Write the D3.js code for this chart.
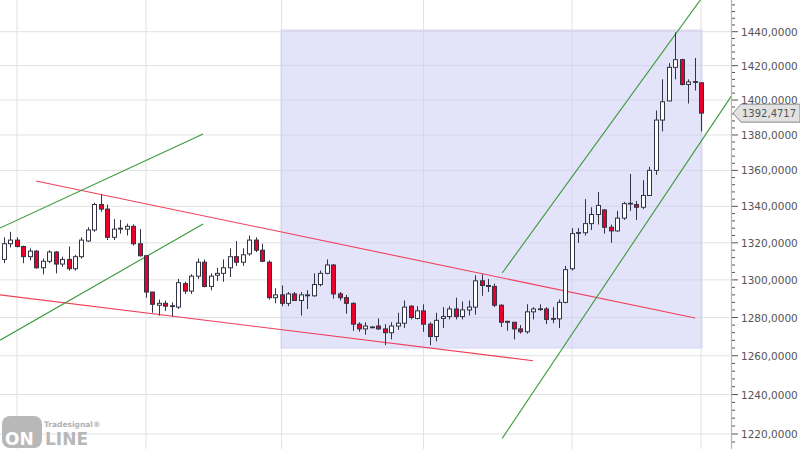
<!DOCTYPE html>
<html><head><meta charset="utf-8">
<script src="https://cdn.jsdelivr.net/npm/d3@7"></script>
<style>body{margin:0;background:#fff}svg{display:block}</style>
</head><body>
<svg id="c" width="800" height="449"></svg>
<script>
// candles: [open, high, low, close]
const candles = [
[1311,1323,1309,1319.5],[1319.5,1326,1317.5,1321.5],[1321.5,1323,1317.5,1318],[1318,1318.5,1309,1312.5],
[1312.5,1317,1310.5,1315.5],[1315.5,1316,1306,1306.5],[1306.5,1311.5,1303,1310],[1310,1316,1309,1315],
[1315,1315.5,1303.5,1308.5],[1308.5,1312.5,1307,1311],[1311,1318,1305,1306],[1306,1313.5,1305,1312.5],
[1312.5,1323,1311.5,1321.5],[1321,1328.5,1320.5,1327],[1327,1342,1326,1341],[1341,1346.5,1337,1338.5],
[1338.5,1341,1321.5,1323],[1323,1333,1321.5,1327.5],[1327.5,1332.5,1325,1328],[1327.5,1330.5,1324,1329],
[1329,1330,1318.5,1319.5],[1319.5,1327.5,1312.5,1313],[1313,1313,1290.5,1293.5],[1293.5,1293.5,1282.5,1287],
[1286.5,1289.5,1281,1287.5],[1287.5,1289,1283.5,1286],[1286.2,1288,1280.5,1286],[1285.5,1300.5,1284.5,1298.5],
[1298,1299,1292.5,1294],[1294,1303,1292.5,1302],[1302,1311.5,1300.5,1309.5],[1309.5,1311,1296,1296.5],
[1296.5,1303.5,1294.5,1302],[1302.5,1306.5,1299.5,1303.5],[1303.5,1311,1299,1306.5],[1306.5,1317,1301.5,1312.5],
[1312.5,1321,1307.5,1309.5],[1309.5,1317,1307.5,1313.5],[1314,1324,1313,1321.5],[1321.5,1323,1315,1316],
[1316,1319.5,1309.5,1310],[1309.5,1310.5,1289.5,1290.5],[1290.5,1295.5,1287.5,1292],[1292,1297,1286,1287.5],
[1287.5,1293.5,1286,1292.5],[1292.5,1293.5,1289,1289],[1289,1293.5,1281,1292],[1291.5,1294.5,1284.5,1292],
[1291.5,1303.5,1291,1297.5],[1297.5,1305,1296.5,1303.5],[1303.5,1311,1303,1308],[1308,1308.5,1290,1292.5],
[1292.5,1293.5,1289,1290.5],[1290.5,1292,1282,1287.5],[1287.5,1288,1273,1276.5],[1276.5,1277.5,1272.5,1274],
[1274,1277.5,1271,1275.5],[1275,1275.5,1274.5,1274.8],[1275.5,1279.5,1273.5,1274],[1274,1276.5,1265.5,1272],
[1272,1277.5,1268.5,1275.5],[1275.5,1282.5,1273.5,1277],[1277,1289,1274.5,1285.5],[1286,1286.5,1279,1280],
[1279.5,1286,1279,1283.5],[1283.5,1287,1272.5,1276.5],[1276.5,1277.5,1265.5,1270],[1270,1282.5,1267.5,1278.5],
[1279.5,1285.5,1274.5,1280.5],[1280.5,1286,1279,1284.5],[1284.5,1290.5,1279,1280.5],[1280.5,1288.5,1279,1284],
[1284,1289,1281,1285.5],[1285.5,1302.5,1281.5,1299.5],[1299.5,1303,1291.5,1297],[1297,1300.5,1293.5,1296.5],
[1296.5,1298,1285.5,1286.5],[1286.5,1287,1275,1277.5],[1278,1278,1273,1277.5],[1277.5,1277.5,1268.5,1274],
[1274,1276,1271.5,1272.5],[1272.5,1287,1271.5,1283],[1283,1285.5,1279,1284.5],[1284.5,1287,1283.5,1284.6],
[1284.5,1285.5,1276.5,1279],[1279.5,1285.5,1277,1279.3],[1279.3,1289.5,1274.5,1288],[1288,1307.5,1287.5,1305.5],
[1306,1328,1305,1325],[1325.4,1328,1320,1325.6],[1325.5,1344,1324,1330.5],[1330.5,1339.5,1327,1335.5],
[1335.5,1348,1330,1340.5],[1338,1338.5,1325,1328.5],[1328.5,1330,1320,1326.5],[1326.5,1337.5,1326,1333.5],
[1333.5,1342.5,1332.5,1341.5],[1341.5,1358,1337.5,1341.7],[1341,1343,1332.5,1339.5],[1339.5,1354.5,1338.5,1346],
[1346,1362,1346,1360],[1360,1394,1357.5,1388.5],[1388.5,1412,1382,1399],[1399.5,1421.5,1399.5,1419],
[1419,1439.5,1412,1423.5],[1423.5,1424,1408.5,1409],[1409,1412,1398,1410.5],[1410.7,1424.5,1405.5,1410.5],
[1410,1410.3,1382,1392.4717]
];
const yTicks = [1220,1240,1260,1280,1300,1320,1340,1360,1380,1400,1420,1440];
const xGrid = [2,22,43,65,88,108];
const lastPrice = 1392.4717;
// trend lines: [idx1, value1, idx2, value2]
const redLines = [[4.96,1354.1,107.1,1279.7],[-0.62,1292.0,82.0,1257.4]];
const greenLines = [[-0.62,1328.1,30.85,1380.5],[-0.62,1268.1,30.85,1330.3],[77.2,1303.7,107.9,1459],[77.2,1217.8,112.7,1402.3]];
const box = [43, 108, 1441, 1264];

const svg = d3.select("#c");
const x = d3.scaleLinear().domain([0,108]).range([4,701]);
const y = d3.scaleLog().domain([1220,1440]).range([434,31.7]);
const fmt = v => d3.format(".4f")(v).replace(".", ",");

svg.append("g").selectAll("line").data(yTicks).join("line")
  .attr("x1",0).attr("x2",731).attr("y1",d=>y(d)).attr("y2",d=>y(d))
  .attr("stroke","#e2e2e2");
svg.append("g").selectAll("line").data(xGrid).join("line")
  .attr("x1",d=>x(d)).attr("x2",d=>x(d)).attr("y1",0).attr("y2",449)
  .attr("stroke","#e2e2e2");

svg.append("rect").attr("x",x(box[0])-0.5).attr("width",x(box[1])-x(box[0])+1.5)
  .attr("y",y(box[2])).attr("height",y(box[3])-y(box[2]))
  .attr("fill","rgba(200,200,245,0.5)").attr("stroke","#d6d6f0");

const tl = (arr,col) => svg.append("g").selectAll("line").data(arr).join("line")
  .attr("x1",d=>x(d[0])).attr("y1",d=>y(d[1])).attr("x2",d=>x(d[2])).attr("y2",d=>y(d[3]))
  .attr("stroke",col).attr("stroke-width",1.1);
tl(redLines,"#f0405a");
tl(greenLines,"#3a9a3a");

const g = svg.append("g");
candles.forEach((c,i)=>{
  const cx = Math.round(x(i))+0.5;
  const up = c[3] >= c[0];
  g.append("line").attr("x1",cx).attr("x2",cx).attr("y1",y(c[1])).attr("y2",y(c[2]))
    .attr("stroke","#333344");
  const top = y(Math.max(c[0],c[3])), bot = y(Math.min(c[0],c[3]));
  g.append("rect").attr("x",cx-2).attr("width",4).attr("y",top).attr("height",Math.max(bot-top,0.8))
    .attr("fill",up?"#ffffff":"#e8002a").attr("stroke","#333344").attr("stroke-width",1);
});

svg.append("line").attr("x1",731.5).attr("x2",731.5).attr("y1",0).attr("y2",449).attr("stroke","#d9a8a8").attr("stroke-width",1.2);
const minor = d3.range(1216,1464,4);
svg.append("g").selectAll("line").data(minor).join("line")
  .attr("x1",732).attr("x2",d=>d%20===0?738:735).attr("y1",d=>y(d)).attr("y2",d=>y(d)).attr("stroke","#555");
svg.append("g").selectAll("text").data(yTicks).join("text")
  .attr("x",741).attr("y",d=>y(d)+4).text(fmt)
  .attr("font-family","DejaVu Sans, sans-serif").attr("font-size",10.5).attr("fill","#555");

const ly = y(lastPrice);
svg.append("path").attr("d",`M733,${ly} L741,${ly-9} L800,${ly-9} L800,${ly+9} L741,${ly+9} Z`)
  .attr("fill","#e2e2e2").attr("stroke","#888");
svg.append("text").attr("x",742).attr("y",ly+4).text(fmt(lastPrice))
  .attr("font-family","DejaVu Sans, sans-serif").attr("font-size",10).attr("fill","#555");

svg.append("rect").attr("x",2).attr("y",416).attr("width",40).attr("height",32).attr("rx",8).attr("fill","#b8b8b8");
svg.append("text").attr("x",5).attr("y",445).text("ON").attr("font-family","DejaVu Sans, sans-serif")
  .attr("font-weight","bold").attr("font-size",17).attr("fill","#fff");
svg.append("text").attr("x",45).attr("y",445).text("LINE").attr("font-family","DejaVu Sans, sans-serif")
  .attr("font-weight","bold").attr("font-size",17).attr("fill","#b8b8b8");
svg.append("text").attr("x",44).attr("y",427).text("Tradesignal®").attr("font-family","DejaVu Sans, sans-serif")
  .attr("font-weight","bold").attr("font-size",7.5).attr("fill","#b0b0b0");
</script>
</body></html>
